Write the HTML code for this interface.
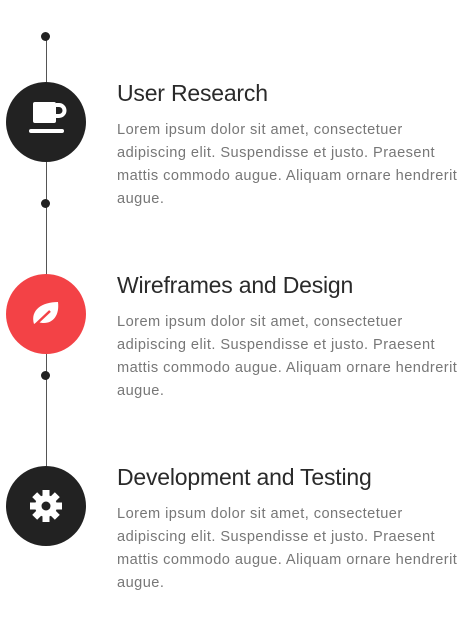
<!DOCTYPE html>
<html><head><style>
body{margin:0;width:471px;height:639px;background:#fff;position:relative;overflow:hidden;font-family:"Liberation Sans",sans-serif}
.line{position:absolute;left:45.5px;top:37px;width:1px;height:508px;background:#555}
.dot{position:absolute;width:9px;height:9px;border-radius:50%;background:#222;left:41px}
.c{position:absolute;left:6px;width:80px;height:80px;border-radius:50%;background:#222}
.t{position:absolute;left:117px;font-size:23px;color:#2a2a2a;white-space:nowrap;letter-spacing:-0.2px}
.p{position:absolute;left:117px;font-size:14.6px;line-height:23px;color:#777;width:380px;letter-spacing:0.45px}
</style></head><body>
<div class="line"></div>
<div class="dot" style="top:32px"></div>
<div class="dot" style="top:199px"></div>
<div class="dot" style="top:371px"></div>
<div class="c" style="top:82px"><svg width="80" height="80"><rect x="27" y="20" width="23" height="21" rx="2" fill="#fff"/><path d="M50 23h3a4.5 4.5 0 0 1 0 11h-3" stroke="#fff" stroke-width="4" fill="none"/><rect x="23" y="47" width="35" height="4" rx="2" fill="#fff"/></svg></div>
<div class="c" style="top:274px;background:#f34246"><svg width="80" height="80"><path d="M28 50 C24 36 36 28 52 28 C54 44 44 52 32 48" fill="#fff"/><path d="M27 53 L44 37" stroke="#f34246" stroke-width="2.5"/></svg></div>
<div class="c" style="top:466px"><svg width="80" height="80"><g transform="translate(40,40)" fill="#fff"><circle r="11"/><g><rect x="-3.5" y="-16" width="7" height="32"/><rect x="-3.5" y="-16" width="7" height="32" transform="rotate(45)"/><rect x="-3.5" y="-16" width="7" height="32" transform="rotate(90)"/><rect x="-3.5" y="-16" width="7" height="32" transform="rotate(135)"/></g><circle r="4.5" fill="#222"/></g></svg></div>
<div class="t" style="top:80px">User Research</div>
<div class="p" style="top:119px">Lorem ipsum dolor sit amet, consectetuer<br>adipiscing elit. Suspendisse et justo. Praesent<br>mattis commodo augue. Aliquam ornare hendrerit<br>augue.</div>
<div class="t" style="top:272px">Wireframes and Design</div>
<div class="p" style="top:311px">Lorem ipsum dolor sit amet, consectetuer<br>adipiscing elit. Suspendisse et justo. Praesent<br>mattis commodo augue. Aliquam ornare hendrerit<br>augue.</div>
<div class="t" style="top:464px">Development and Testing</div>
<div class="p" style="top:503px">Lorem ipsum dolor sit amet, consectetuer<br>adipiscing elit. Suspendisse et justo. Praesent<br>mattis commodo augue. Aliquam ornare hendrerit<br>augue.</div>
</body></html>
